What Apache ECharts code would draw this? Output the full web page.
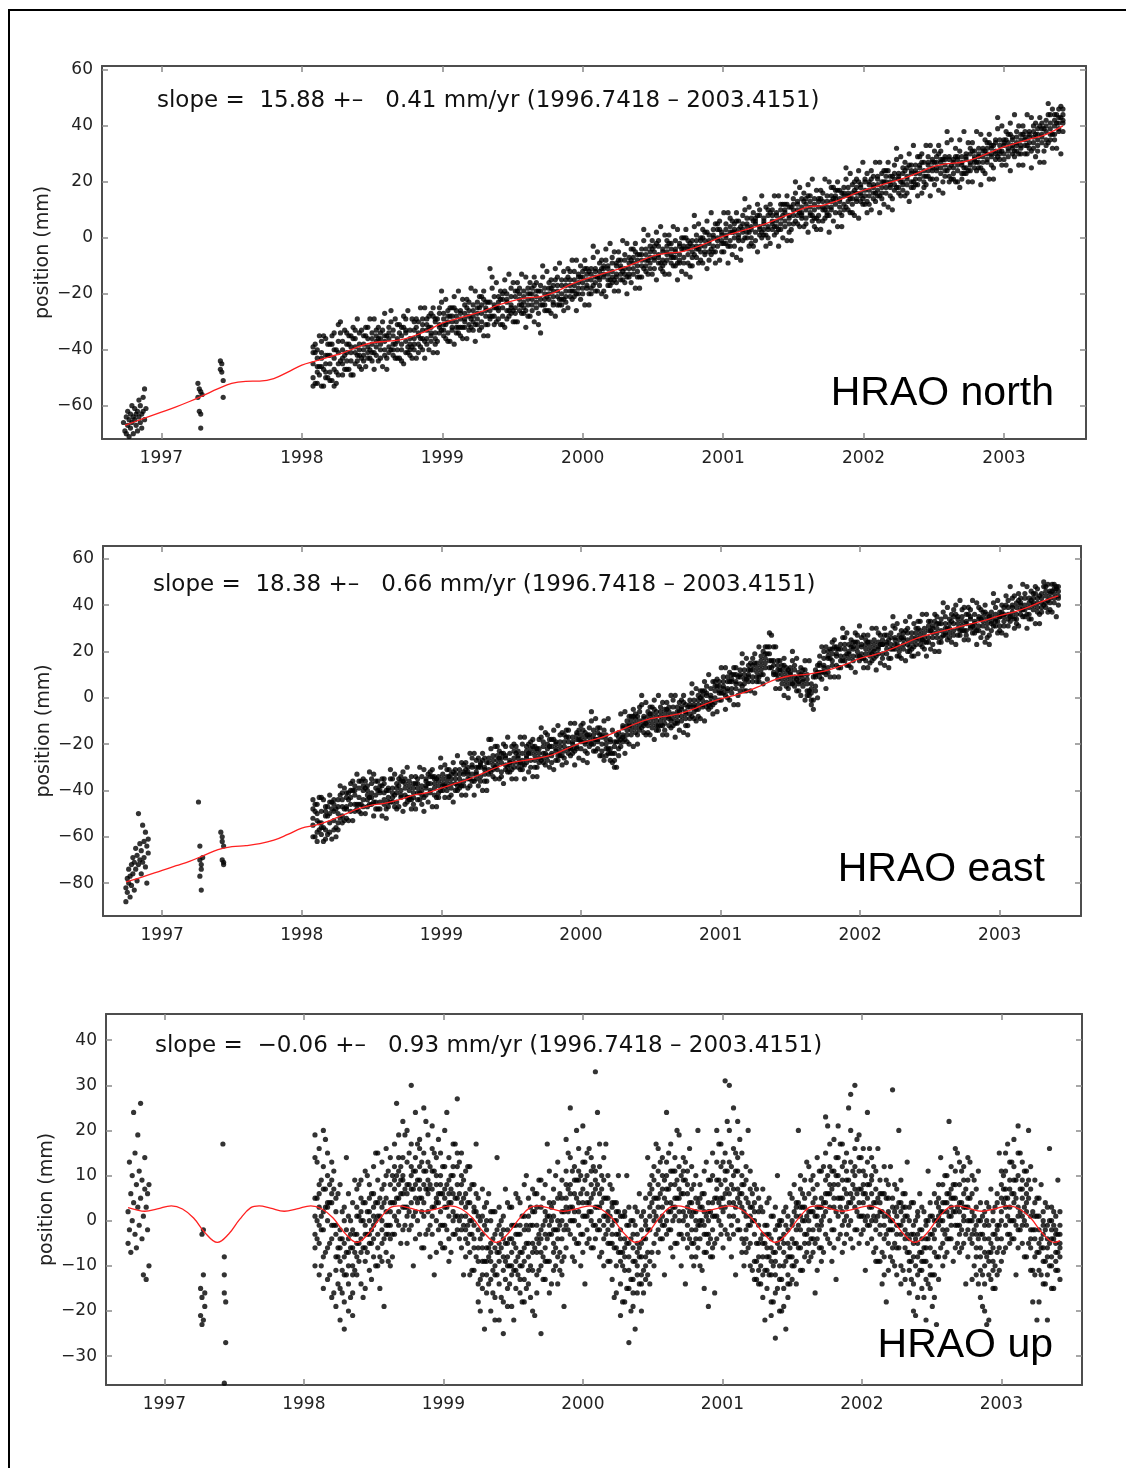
<!DOCTYPE html>
<html>
<head>
<meta charset="utf-8">
<script src="https://cdn.jsdelivr.net/npm/echarts@6/dist/echarts.min.js"></script>
<style>
  html, body { margin: 0; padding: 0; background: #fff; }
  #chart { width: 1126px; height: 1468px; }
</style>
</head>
<body>
<div id="chart"></div>
<script>
// tick labels
const yearTicks = [1997, 1998, 1999, 2000, 2001, 2002, 2003]
const northTicks = [-60, -40, -20, 0, 20, 40, 60]
const eastTicks = [-80, -60, -40, -20, 0, 20, 40, 60]
const upTicks = [-30, -20, -10, 0, 10, 20, 30, 40]

// ---- HRAO north ----
// sparse early points [year, mm]
const northEarly = [
  [1996.73,-66],[1996.74,-69],[1996.74,-72],[1996.75,-64],[1996.75,-70],[1996.76,-67],[1996.76,-62],[1996.77,-65],
  [1996.77,-71],[1996.78,-63],[1996.78,-68],[1996.79,-66],[1996.79,-60],[1996.80,-64],[1996.80,-70],[1996.81,-65],
  [1996.81,-61],[1996.82,-67],[1996.82,-63],[1996.83,-62],[1996.83,-69],[1996.84,-64],[1996.84,-58],[1996.85,-66],
  [1996.85,-60],[1996.86,-63],[1996.86,-68],[1996.87,-57],[1996.87,-62],[1996.88,-54],[1996.88,-65],[1996.89,-61],
  [1997.26,-52],[1997.26,-57],[1997.27,-54],[1997.27,-62],[1997.28,-55],[1997.28,-63],[1997.28,-68],[1997.29,-56],
  [1997.42,-44],[1997.42,-47],[1997.43,-45],[1997.43,-48],[1997.44,-51],[1997.44,-57]
]
// dense period: [year, mm x5]
const northRows = [
  [1998.08,-41,-50,-45,-53,-39],[1998.11,-46,-40,-52,-43,-48],[1998.14,-37,-46,-53,-43,-41],[1998.17,-48,-42,-45,-36,-50],
  [1998.20,-42,-51,-38,-45,-48],[1998.23,-40,-47,-43,-34,-53],[1998.26,-45,-37,-49,-41,-31],[1998.29,-37,-43,-49,-45,-40],
  [1998.32,-47,-38,-41,-44,-34],[1998.35,-39,-44,-35,-49,-41],[1998.38,-41,-36,-45,-39,-33],[1998.41,-34,-42,-38,-46,-40],
  [1998.44,-42,-38,-35,-40,-44],[1998.47,-36,-43,-32,-39,-41],[1998.50,-38,-34,-41,-44,-36],[1998.53,-33,-39,-37,-42,-35],
  [1998.56,-40,-36,-43,-34,-38],[1998.59,-37,-27,-40,-35,-42],[1998.62,-34,-41,-36,-39,-32],[1998.65,-42,-35,-38,-33,-40],
  [1998.68,-36,-40,-31,-43,-37],[1998.71,-38,-32,-40,-35,-44],[1998.74,-33,-37,-41,-34,-29],[1998.77,-40,-36,-33,-38,-42],
  [1998.80,-33,-38,-30,-36,-40],[1998.83,-35,-30,-38,-34,-41],[1998.86,-29,-36,-33,-40,-31],[1998.89,-36,-31,-38,-33,-29],
  [1998.92,-32,-37,-27,-35,-34],[1998.95,-34,-29,-38,-30,-36],[1998.98,-27,-32,-34,-31,-25],[1999.01,-33,-29,-35,-27,-31],
  [1999.04,-30,-34,-28,-37,-26],[1999.07,-28,-32,-25,-33,-30],[1999.10,-34,-28,-30,-26,-32],[1999.13,-26,-32,-29,-35,-27],
  [1999.16,-29,-24,-32,-27,-30],[1999.19,-26,-33,-28,-23,-31],[1999.22,-30,-26,-33,-24,-28],[1999.25,-27,-23,-29,-31,-25],
  [1999.28,-30,-24,-27,-21,-32],[1999.31,-23,-28,-26,-31,-25],[1999.34,-26,-11,-29,-23,-28],[1999.37,-24,-28,-21,-31,-25],
  [1999.40,-26,-21,-29,-23,-25],[1999.43,-20,-25,-28,-22,-31],[1999.46,-26,-23,-20,-29,-22],[1999.49,-21,-27,-24,-18,-25],
  [1999.52,-27,-21,-25,-19,-30],[1999.55,-22,-24,-18,-26,-20],[1999.58,-19,-27,-23,-21,-25],[1999.61,-24,-20,-28,-18,-22],
  [1999.64,-20,-24,-18,-22,-26],[1999.67,-25,-19,-21,-23,-16],[1999.70,-19,-34,-24,-17,-22],[1999.73,-22,-18,-26,-20,-24],
  [1999.76,-16,-22,-20,-26,-18],[1999.79,-23,-19,-24,-17,-21],[1999.82,-19,-24,-17,-21,-14],[1999.85,-20,-15,-22,-17,-24],
  [1999.88,-15,-19,-17,-21,-23],[1999.91,-21,-15,-19,-12,-17],[1999.94,-15,-19,-12,-17,-21],[1999.97,-18,-14,-20,-16,-13],
  [2000.00,-12,-16,-20,-14,-18],[2000.03,-18,-15,-11,-17,-13],[2000.06,-13,-18,-15,-11,-20],[2000.09,-16,-11,-14,-19,-12],
  [2000.12,-9,-15,-17,-12,-14],[2000.15,-14,-11,-19,-13,-10],[2000.18,-10,-15,-11,-17,-13],[2000.21,-16,-12,-9,-14,-7],
  [2000.24,-10,-16,-13,-9,-14],[2000.27,-13,-8,-11,-15,-10],[2000.30,-6,-11,-13,-8,-16],[2000.33,-13,-9,-11,-7,-14],
  [2000.36,-9,-13,-4,-11,-7],[2000.39,-10,-6,-14,-8,-12],[2000.42,-6,-10,-8,-4,-14],[2000.45,-10,-6,-8,-12,-4],
  [2000.48,-3,-9,-7,-5,-11],[2000.51,-8,-5,-11,-3,-7],[2000.54,-6,-3,-9,-7,-1],[2000.57,-10,-5,-4,-8,-12],
  [2000.60,-3,-8,-5,-1,-6],[2000.63,-6,-2,-9,-4,-7],[2000.66,-1,-7,-4,-10,-5],[2000.69,-8,-3,-6,-2,-9],
  [2000.72,-4,-9,0,-7,-3],[2000.75,-6,-4,-1,-9,-3],[2000.78,-1,-7,-3,-5,-10],[2000.81,-4,-1,-7,1,-3],
  [2000.84,-1,-8,-3,-5,0],[2000.87,-5,-1,-3,2,-6],[2000.90,-2,1,-5,-1,-8],[2000.93,3,-3,0,-5,1],
  [2000.96,-1,3,-3,0,5],[2000.99,2,-2,-5,1,-1],[2001.02,-2,1,5,0,3],[2001.05,4,-3,2,-1,7],
  [2001.08,0,3,-3,5,2],[2001.11,3,-1,6,1,0],[2001.14,-1,5,3,8,2],[2001.17,5,2,0,4,7],
  [2001.20,3,7,0,4,-2],[2001.23,7,2,5,-1,6],[2001.26,1,4,8,3,10],[2001.29,6,1,7,3,5],
  [2001.32,3,8,4,10,0],[2001.35,10,5,6,3,8],[2001.38,4,9,2,8,6],[2001.41,7,10,5,12,3],
  [2001.44,10,6,9,4,12],[2001.47,7,11,5,8,2],[2001.50,12,8,10,5,14],[2001.53,8,12,5,10,13],
  [2001.56,11,7,14,9,8],[2001.59,7,12,10,14,5],[2001.62,13,9,11,15,8],[2001.65,10,14,7,12,4],
  [2001.68,14,8,11,6,13],[2001.71,10,13,6,16,11],[2001.74,13,9,15,11,8],[2001.77,10,15,13,11,18],
  [2001.80,15,9,14,17,12],[2001.83,13,17,11,14,9],[2001.86,18,12,15,10,16],[2001.89,13,15,18,10,16],
  [2001.92,16,12,14,19,9],[2001.95,13,18,16,14,21],[2001.98,19,16,13,18,15],[2002.01,15,20,17,12,21],
  [2002.04,19,15,20,17,12],[2002.07,14,19,16,22,18],[2002.10,21,17,19,15,22],[2002.13,18,23,16,20,14],
  [2002.16,22,18,20,16,24],[2002.19,18,22,15,20,19],[2002.22,21,17,23,19,26],[2002.25,18,21,23,16,22],
  [2002.28,23,19,20,25,17],[2002.31,21,25,19,22,16],[2002.34,26,20,23,18,24],[2002.37,21,24,19,26,23],
  [2002.40,25,21,26,23,29],[2002.43,20,24,27,22,18],[2002.46,27,24,22,26,29],[2002.49,24,28,25,21,27],
  [2002.52,29,24,27,21,25],[2002.55,23,27,25,28,31],[2002.58,26,22,28,24,29],[2002.61,25,28,22,29,20],
  [2002.64,23,27,21,28,25],[2002.67,24,28,20,26,29],[2002.70,26,29,23,27,21],[2002.73,29,25,30,23,28],
  [2002.76,26,30,27,32,24],[2002.79,31,27,28,25,29],[2002.82,27,30,25,32,29],[2002.85,31,27,32,29,24],
  [2002.88,27,30,34,28,32],[2002.91,33,29,30,32,26],[2002.94,30,34,28,31,35],[2002.97,35,30,33,28,31],
  [2003.00,30,33,35,28,34],[2003.03,34,31,37,32,29],[2003.06,32,35,30,36,33],[2003.09,36,31,34,33,38],
  [2003.12,32,35,37,30,33],[2003.15,35,38,33,36,30],[2003.18,38,34,36,32,37],[2003.21,34,38,32,36,40],
  [2003.24,37,33,39,35,31],[2003.27,36,39,37,41,34],[2003.30,40,35,38,33,42],[2003.33,35,39,37,41,44],
  [2003.36,40,37,42,35,44],[2003.39,38,41,39,43,46],[2003.42,42,38,44,41,46]
]
// in-between days, wider scatter: [year, mm x3]
const northRows2 = [
  [1998.095,-38,-52,-41],[1998.125,-49,-35,-46],[1998.155,-35,-47,-53],[1998.185,-50,-38,-42],[1998.215,-38,-51,-35],
  [1998.245,-52,-40,-48],[1998.275,-34,-44,-30],[1998.305,-47,-33,-42],[1998.335,-35,-47,-38],[1998.365,-49,-36,-32],
  [1998.395,-29,-44,-42],[1998.425,-43,-33,-47],[1998.455,-32,-46,-35],[1998.485,-43,-29,-40],[1998.515,-29,-41,-47],
  [1998.545,-44,-32,-36],[1998.575,-33,-46,-30],[1998.605,-47,-35,-43],[1998.635,-30,-40,-26],[1998.665,-43,-29,-38],
  [1998.695,-31,-43,-34],[1998.725,-45,-32,-28],[1998.755,-26,-41,-39],[1998.785,-39,-29,-43],[1998.815,-29,-43,-32],
  [1998.845,-39,-25,-36],[1998.875,-25,-37,-43],[1998.905,-40,-28,-32],[1998.935,-28,-41,-25],[1998.965,-41,-29,-37],
  [1998.995,-23,-33,-19],[1999.025,-36,-22,-31],[1999.055,-25,-37,-28],[1999.085,-38,-25,-21],[1999.115,-19,-34,-32],
  [1999.145,-32,-22,-36],[1999.175,-22,-36,-25],[1999.205,-32,-18,-29],[1999.235,-19,-31,-37],[1999.265,-33,-21,-25],
  [1999.295,-22,-35,-19],[1999.325,-35,-23,-31],[1999.355,-18,-28,-14],[1999.385,-30,-16,-25],[1999.415,-19,-31,-22],
  [1999.445,-32,-19,-15],[1999.475,-13,-28,-26],[1999.505,-26,-16,-30],[1999.535,-16,-30,-19],[1999.565,-27,-13,-24],
  [1999.595,-14,-26,-32],[1999.625,-28,-16,-20],[1999.655,-17,-30,-14],[1999.685,-31,-19,-27],[1999.715,-14,-24,-10],
  [1999.745,-26,-12,-21],[1999.775,-15,-27,-18],[1999.805,-28,-15,-11],[1999.835,-9,-24,-22],[1999.865,-22,-12,-26],
  [1999.895,-11,-25,-14],[1999.925,-22,-8,-19],[1999.955,-8,-20,-26],[1999.985,-22,-10,-14],[2000.015,-11,-24,-8],
  [2000.045,-24,-12,-20],[2000.075,-7,-17,-3],[2000.105,-19,-5,-14],[2000.135,-8,-20,-11],[2000.165,-21,-8,-4],
  [2000.195,-2,-17,-15],[2000.225,-15,-5,-19],[2000.255,-5,-19,-8],[2000.285,-15,-1,-12],[2000.315,-2,-14,-20],
  [2000.345,-16,-4,-8],[2000.375,-5,-18,-2],[2000.405,-18,-6,-14],[2000.435,-1,-11,3],[2000.465,-13,1,-8],
  [2000.495,-1,-13,-4],[2000.525,-15,-2,2],[2000.555,4,-11,-9],[2000.585,-9,1,-13],[2000.615,1,-13,-2],
  [2000.645,-10,4,-7],[2000.675,3,-9,-15],[2000.705,-12,0,-4],[2000.735,0,-13,3],[2000.765,-14,-2,-10],
  [2000.795,4,-6,8],[2000.825,-9,5,-4],[2000.855,3,-9,0],[2000.885,-11,2,6],[2000.915,9,-6,-4],
  [2000.945,-5,5,-9],[2000.975,6,-8,3],[2001.005,-5,9,-2],[2001.035,9,-3,-9],[2001.065,-6,6,2],
  [2001.095,6,-7,9],[2001.125,-8,4,-4],[2001.155,10,0,14],[2001.185,-3,11,2],[2001.215,9,-3,6],
  [2001.245,-5,8,12],[2001.275,15,0,2],[2001.305,1,11,-3],[2001.335,12,-2,9],[2001.365,1,15,4],
  [2001.395,15,3,-3],[2001.425,0,12,8],[2001.455,12,-1,15],[2001.485,-1,11,3],[2001.515,16,6,20],
  [2001.545,4,18,9],[2001.575,16,4,13],[2001.605,2,15,19],[2001.635,21,6,8],[2001.665,7,17,3],
  [2001.695,17,3,14],[2001.725,7,21,10],[2001.755,20,8,2],[2001.785,6,18,14],[2001.815,17,4,20],
  [2001.845,4,16,8],[2001.875,21,11,25],[2001.905,9,23,14],[2001.935,20,8,17],[2001.965,7,20,24],
  [2001.995,27,12,14],[2002.025,13,23,9],[2002.055,24,10,21],[2002.085,13,27,16],[2002.115,27,15,9],
  [2002.145,12,24,20],[2002.175,24,11,27],[2002.205,10,22,14],[2002.235,28,18,32],[2002.265,15,29,20],
  [2002.295,27,15,24],[2002.325,13,26,30],[2002.355,33,18,20],[2002.385,19,29,15],[2002.415,30,16,27],
  [2002.445,19,33,22],[2002.475,33,21,15],[2002.505,19,31,27],[2002.535,30,17,33],[2002.565,16,28,20],
  [2002.595,34,24,38],[2002.625,21,35,26],[2002.655,32,20,29],[2002.685,18,31,35],[2002.715,38,23,25],
  [2002.745,24,34,20],[2002.775,34,20,31],[2002.805,24,38,27],[2002.835,37,25,19],[2002.865,23,35,31],
  [2002.895,34,21,37],[2002.925,21,33,25],[2002.955,39,29,43],[2002.985,26,40,31],[2003.015,38,26,35],
  [2003.045,24,37,41],[2003.075,44,29,31],[2003.105,30,40,26],[2003.135,40,26,37],[2003.165,30,44,33],
  [2003.195,43,31,25],[2003.225,29,41,37],[2003.255,40,27,43],[2003.285,27,39,31],[2003.315,44,34,48],
  [2003.345,32,46,37],[2003.375,44,32,41],[2003.405,30,43,47]
]
// red fitted curve
const northFit = [
  [1996.74,-67],[1996.85,-65],[1997.0,-62.3],[1997.1,-60.5],[1997.2,-58.5],[1997.3,-56.3],[1997.4,-54],[1997.5,-52],
  [1997.6,-51.3],[1997.7,-51.2],[1997.8,-50.3],[1997.9,-48],[1998.0,-45.5],[1998.1,-44],[1998.2,-42.5],[1998.3,-41],
  [1998.4,-39],[1998.5,-37.5],[1998.6,-37],[1998.7,-36.5],[1998.8,-35],[1998.9,-33],[1999.0,-30.5],[1999.1,-29],
  [1999.2,-27.5],[1999.3,-26],[1999.4,-24],[1999.5,-22.5],[1999.6,-21.5],[1999.7,-21],[1999.8,-19.5],[1999.9,-17],
  [2000.0,-15],[2000.1,-13.5],[2000.2,-12],[2000.3,-10.5],[2000.4,-8.5],[2000.5,-6.5],[2000.6,-5.5],[2000.7,-5],
  [2000.8,-3.5],[2000.9,-1.5],[2001.0,0.5],[2001.1,2],[2001.2,3.5],[2001.3,5],[2001.4,7],[2001.5,9],
  [2001.6,11],[2001.7,11.5],[2001.8,13],[2001.9,15],[2002.0,17],[2002.1,18.5],[2002.2,20],[2002.3,21.5],
  [2002.4,23.5],[2002.5,25.5],[2002.6,26.5],[2002.7,27],[2002.8,28.5],[2002.9,30.5],[2003.0,32.5],[2003.1,34],
  [2003.2,35.5],[2003.3,37],[2003.42,40]
]

// ---- HRAO east ----
const eastEarly = [
  [1996.74,-82],[1996.74,-88],[1996.74,-95],[1996.75,-78],[1996.75,-84],[1996.76,-80],[1996.76,-74],[1996.77,-86],
  [1996.77,-77],[1996.78,-72],[1996.78,-81],[1996.79,-69],[1996.79,-76],[1996.80,-83],[1996.80,-71],[1996.81,-65],
  [1996.81,-74],[1996.82,-79],[1996.82,-68],[1996.83,-50],[1996.83,-72],[1996.84,-63],[1996.84,-70],[1996.85,-76],
  [1996.85,-66],[1996.86,-55],[1996.86,-71],[1996.87,-62],[1996.87,-69],[1996.88,-58],[1996.88,-73],[1996.89,-64],
  [1996.89,-80],[1996.90,-67],[1996.90,-61],
  [1997.26,-45],[1997.27,-64],[1997.27,-70],[1997.28,-72],[1997.28,-74],[1997.27,-77],[1997.28,-83],[1997.29,-69],
  [1997.42,-58],[1997.43,-60],[1997.43,-62],[1997.44,-64],[1997.43,-70],[1997.44,-72],[1997.44,-71]
]
const eastRows = [
  [1998.08,-48,-55,-44,-60,-52],[1998.11,-53,-46,-58,-50,-62],[1998.14,-49,-56,-43,-54,-59],[1998.17,-57,-51,-47,-61,-49],
  [1998.20,-50,-54,-45,-58,-42],[1998.23,-53,-46,-57,-49,-44],[1998.26,-47,-54,-44,-50,-57],[1998.29,-51,-44,-47,-54,-41],
  [1998.32,-43,-48,-52,-41,-47],[1998.35,-46,-40,-49,-43,-37],[1998.38,-38,-46,-42,-49,-40],[1998.41,-43,-39,-46,-36,-49],
  [1998.44,-40,-47,-38,-44,-35],[1998.47,-44,-40,-47,-38,-42],[1998.50,-37,-43,-41,-35,-46],[1998.53,-45,-39,-42,-36,-48],
  [1998.56,-41,-45,-38,-48,-40],[1998.59,-44,-37,-46,-41,-35],[1998.62,-39,-43,-47,-40,-45],[1998.65,-45,-39,-35,-43,-41],
  [1998.68,-39,-45,-37,-41,-48],[1998.71,-42,-36,-43,-34,-40],[1998.74,-37,-42,-39,-46,-35],[1998.77,-43,-40,-36,-44,-38],
  [1998.80,-39,-43,-46,-37,-41],[1998.83,-41,-35,-39,-44,-37],[1998.86,-34,-40,-42,-38,-46],[1998.89,-42,-36,-39,-35,-38],
  [1998.92,-37,-41,-34,-40,-32],[1998.95,-39,-34,-42,-37,-35],[1998.98,-34,-38,-36,-41,-43],[1999.01,-40,-35,-38,-33,-37],
  [1999.04,-34,-40,-36,-38,-31],[1999.07,-37,-33,-39,-35,-42],[1999.10,-31,-37,-33,-40,-35],[1999.13,-37,-33,-35,-31,-39],
  [1999.16,-33,-36,-29,-38,-32],[1999.19,-35,-30,-33,-39,-32],[1999.22,-29,-33,-36,-30,-26],[1999.25,-35,-30,-33,-27,-32],
  [1999.28,-29,-34,-30,-36,-28],[1999.31,-31,-26,-33,-30,-36],[1999.34,-26,-31,-18,-33,-28],[1999.37,-31,-27,-34,-25,-29],
  [1999.40,-27,-31,-25,-29,-21],[1999.43,-32,-28,-26,-34,-24],[1999.46,-25,-29,-31,-26,-21],[1999.49,-28,-24,-27,-32,-29],
  [1999.52,-23,-30,-26,-28,-20],[1999.55,-28,-25,-30,-23,-26],[1999.58,-24,-29,-20,-27,-31],[1999.61,-28,-23,-25,-21,-26],
  [1999.64,-22,-27,-30,-24,-19],[1999.67,-25,-23,-27,-21,-30],[1999.70,-22,-28,-24,-18,-26],[1999.73,-26,-21,-24,-19,-28],
  [1999.76,-22,-25,-20,-27,-16],[1999.79,-24,-18,-25,-21,-28],[1999.82,-19,-23,-22,-27,-20],[1999.85,-25,-19,-23,-16,-21],
  [1999.88,-19,-23,-16,-21,-26],[1999.91,-22,-17,-24,-19,-14],[1999.94,-17,-20,-22,-19,-24],[1999.97,-22,-15,-18,-21,-16],
  [2000.00,-18,-22,-16,-19,-12],[2000.03,-15,-20,-23,-17,-19],[2000.06,-19,-16,-13,-21,-17],[2000.09,-16,-20,-18,-14,-23],
  [2000.12,-19,-15,-22,-18,-13],[2000.15,-16,-20,-23,-17,-25],[2000.18,-22,-18,-20,-16,-25],[2000.21,-19,-24,-18,-22,-27],
  [2000.24,-24,-19,-27,-21,-30],[2000.27,-15,-22,-19,-25,-17],[2000.30,-16,-12,-19,-13,-17],[2000.33,-12,-16,-10,-14,-19],
  [2000.36,-14,-10,-16,-8,-12],[2000.39,-9,-13,-11,-7,-15],[2000.42,-12,-6,-10,-14,-4],[2000.45,-8,-12,-15,-9,-11],
  [2000.48,-12,-8,-6,-10,-15],[2000.51,-9,-13,-7,-4,-11],[2000.54,-6,-10,-12,-8,-14],[2000.57,-10,-6,-8,-12,-4],
  [2000.60,-7,-11,-5,-9,-14],[2000.63,-9,-4,-12,-6,-8],[2000.66,-4,-9,-7,-12,-1],[2000.69,-10,-6,-8,-4,-11],
  [2000.72,-4,-10,-5,-8,-1],[2000.75,-7,-3,-9,-6,-12],[2000.78,-1,-7,-4,-9,-3],[2000.81,-6,-3,-9,-1,-4],
  [2000.84,-1,-5,1,-3,-8],[2000.87,-4,1,-1,3,-3],[2000.90,2,-2,-4,1,5],[2000.93,0,4,-2,1,-4],
  [2000.96,5,0,3,-2,7],[2000.99,2,5,3,7,-1],[2001.02,7,2,5,9,4],[2001.05,3,7,9,4,0],
  [2001.08,7,4,10,2,8],[2001.11,6,10,4,7,13],[2001.14,10,6,9,3,12],[2001.17,6,10,8,12,3],
  [2001.20,12,7,10,14,9],[2001.23,9,12,14,7,17],[2001.26,13,9,11,15,7],[2001.29,12,16,18,10,14],
  [2001.32,19,13,22,15,17],[2001.35,16,22,28,13,19],[2001.38,16,11,22,14,10],[2001.41,10,14,8,12,16],
  [2001.44,12,8,10,6,14],[2001.47,7,11,13,9,5],[2001.50,10,6,11,13,8],[2001.53,7,12,5,9,14],
  [2001.56,11,7,9,3,6],[2001.59,7,10,5,12,8],[2001.62,8,3,1,6,10],[2001.65,4,-1,2,6,-3],
  [2001.68,5,9,12,3,10],[2001.71,15,11,9,14,18],[2001.74,13,17,11,14,20],[2001.77,18,13,17,11,20],
  [2001.80,16,19,14,21,24],[2001.83,22,18,19,14,21],[2001.86,16,21,18,23,13],[2001.89,21,18,23,16,26],
  [2001.92,19,23,17,20,14],[2001.95,22,18,24,16,21],[2001.98,18,22,20,24,27],[2002.01,22,17,23,19,26],
  [2002.04,19,23,16,21,25],[2002.07,24,20,22,18,15],[2002.10,20,23,17,25,21],[2002.13,24,19,22,21,28],
  [2002.16,19,23,25,17,23],[2002.19,24,21,19,27,23],[2002.22,21,26,23,17,28],[2002.25,26,23,21,25,30],
  [2002.28,20,25,27,22,18],[2002.31,25,21,26,28,23],[2002.34,23,28,20,25,30],[2002.37,28,24,26,21,18],
  [2002.40,25,28,23,30,26],[2002.43,29,23,27,25,33],[2002.46,24,28,30,26,21],[2002.49,29,26,24,31,33],
  [2002.52,26,31,28,23,30],[2002.55,32,28,26,30,35],[2002.58,29,32,26,34,24],[2002.61,32,27,30,28,35],
  [2002.64,28,32,34,30,26],[2002.67,32,29,27,35,38],[2002.70,30,34,32,27,35],[2002.73,35,31,29,33,38],
  [2002.76,32,36,29,33,27],[2002.79,35,31,34,30,38],[2002.82,30,33,36,32,28],[2002.85,34,29,35,31,39],
  [2002.88,31,35,28,33,37],[2002.91,36,32,34,30,26],[2002.94,32,35,29,37,33],[2002.97,36,31,34,33,39],
  [2003.00,31,35,37,29,35],[2003.03,36,33,31,39,35],[2003.06,34,39,36,31,42],[2003.09,40,37,35,39,43],
  [2003.12,34,39,41,36,32],[2003.15,40,36,41,43,38],[2003.18,38,43,35,40,45],[2003.21,43,39,41,36,34],
  [2003.24,40,43,38,45,41],[2003.27,43,37,41,39,47],[2003.30,39,43,45,41,37],[2003.33,44,41,39,46,48],
  [2003.36,41,46,43,38,45],[2003.39,47,43,41,45,49],[2003.42,43,46,40,44,48]
]
const eastRows2 = [
  [1998.095,-46,-60,-49],[1998.125,-57,-43,-54],[1998.155,-44,-56,-62],[1998.185,-59,-47,-51],[1998.215,-48,-61,-45],
  [1998.245,-60,-48,-56],[1998.275,-42,-52,-38],[1998.305,-53,-39,-48],[1998.335,-41,-53,-44],[1998.365,-53,-40,-36],
  [1998.395,-33,-48,-46],[1998.425,-46,-36,-50],[1998.455,-36,-50,-39],[1998.485,-46,-32,-43],[1998.515,-33,-45,-51],
  [1998.545,-48,-36,-40],[1998.575,-38,-51,-35],[1998.605,-52,-40,-48],[1998.635,-35,-45,-31],[1998.665,-47,-33,-42],
  [1998.695,-35,-47,-38],[1998.725,-49,-36,-32],[1998.755,-30,-45,-43],[1998.785,-44,-34,-48],[1998.815,-34,-48,-37],
  [1998.845,-44,-30,-41],[1998.875,-31,-43,-49],[1998.905,-45,-33,-37],[1998.935,-34,-47,-31],[1998.965,-47,-35,-43],
  [1998.995,-30,-40,-26],[1999.025,-43,-29,-38],[1999.055,-31,-43,-34],[1999.085,-45,-32,-28],[1999.115,-25,-40,-38],
  [1999.145,-38,-28,-42],[1999.175,-28,-42,-31],[1999.205,-38,-24,-35],[1999.235,-24,-36,-42],[1999.265,-38,-26,-30],
  [1999.295,-27,-40,-24],[1999.325,-40,-28,-36],[1999.355,-22,-32,-18],[1999.385,-35,-21,-30],[1999.415,-23,-35,-26],
  [1999.445,-37,-24,-20],[1999.475,-17,-32,-30],[1999.505,-31,-21,-35],[1999.535,-21,-35,-24],[1999.565,-31,-17,-28],
  [1999.595,-17,-29,-35],[1999.625,-32,-20,-24],[1999.655,-21,-34,-18],[1999.685,-34,-22,-30],[1999.715,-17,-27,-13],
  [1999.745,-29,-15,-24],[1999.775,-18,-30,-21],[1999.805,-31,-18,-14],[1999.835,-12,-27,-25],[1999.865,-25,-15,-29],
  [1999.895,-14,-28,-17],[1999.925,-25,-11,-22],[1999.955,-11,-23,-29],[1999.985,-26,-14,-18],[2000.015,-14,-27,-11],
  [2000.045,-28,-16,-24],[2000.075,-10,-20,-6],[2000.105,-23,-9,-18],[2000.135,-13,-25,-16],[2000.165,-27,-14,-10],
  [2000.195,-9,-24,-22],[2000.225,-24,-14,-28],[2000.255,-16,-30,-19],[2000.285,-21,-7,-18],[2000.315,-6,-18,-24],
  [2000.345,-20,-8,-12],[2000.375,-8,-21,-5],[2000.405,-20,-8,-16],[2000.435,-3,-13,1],[2000.465,-16,-2,-11],
  [2000.495,-4,-16,-7],[2000.525,-18,-5,-1],[2000.555,1,-14,-12],[2000.585,-12,-2,-16],[2000.615,-2,-16,-5],
  [2000.645,-13,1,-10],[2000.675,1,-11,-17],[2000.705,-14,-2,-6],[2000.735,-2,-15,1],[2000.765,-16,-4,-12],
  [2000.795,2,-8,6],[2000.825,-10,4,-5],[2000.855,3,-9,0],[2000.885,-10,3,7],[2000.915,10,-5,-3],
  [2000.945,-3,7,-7],[2000.975,8,-6,5],[2001.005,-1,13,2],[2001.035,13,1,-5],[2001.065,-1,11,7],
  [2001.095,10,-3,13],[2001.125,-3,9,1],[2001.155,15,5,19],[2001.185,3,17,8],[2001.215,15,3,12],
  [2001.245,2,15,19],[2001.275,22,7,9],[2001.305,10,20,6],[2001.335,22,8,19],[2001.365,13,27,16],
  [2001.395,22,10,4],[2001.425,4,16,12],[2001.455,14,1,17],[2001.485,0,12,4],[2001.515,16,6,20],
  [2001.545,3,17,8],[2001.575,13,1,10],[2001.605,-1,12,16],[2001.635,16,1,3],[2001.665,-1,9,-5],
  [2001.695,14,0,11],[2001.725,8,22,11],[2001.755,22,10,4],[2001.785,9,21,17],[2001.815,22,9,25],
  [2001.845,9,21,13],[2001.875,26,16,30],[2001.905,14,28,19],[2001.935,25,13,22],[2001.965,11,24,28],
  [2001.995,31,16,18],[2002.025,17,27,13],[2002.055,27,13,24],[2002.085,16,30,19],[2002.115,30,18,12],
  [2002.145,15,27,23],[2002.175,27,14,30],[2002.205,13,25,17],[2002.235,31,21,35],[2002.265,18,32,23],
  [2002.295,29,17,26],[2002.325,16,29,33],[2002.355,35,20,22],[2002.385,22,32,18],[2002.415,33,19,30],
  [2002.445,22,36,25],[2002.475,36,24,18],[2002.505,21,33,29],[2002.535,33,20,36],[2002.565,20,32,24],
  [2002.595,37,27,41],[2002.625,25,39,30],[2002.655,36,24,33],[2002.685,23,36,40],[2002.715,42,27,29],
  [2002.745,29,39,25],[2002.775,39,25,36],[2002.805,28,42,31],[2002.835,41,29,23],[2002.865,26,38,34],
  [2002.895,37,24,40],[2002.925,23,35,27],[2002.955,41,31,45],[2002.985,28,42,33],[2003.015,40,28,37],
  [2003.045,27,40,44],[2003.075,48,33,35],[2003.105,34,44,30],[2003.135,45,31,42],[2003.165,35,49,38],
  [2003.195,48,36,30],[2003.225,34,46,42],[2003.255,45,32,48],[2003.285,32,44,36],[2003.315,50,40,48],
  [2003.345,37,49,42],[2003.375,49,37,46],[2003.405,35,48,47]
]
const eastFit = [
  [1996.74,-79.5],[1996.85,-77.5],[1997.0,-74.5],[1997.1,-72.5],[1997.2,-70.5],[1997.3,-68],[1997.4,-65.5],[1997.5,-64.3],
  [1997.6,-63.8],[1997.7,-63],[1997.8,-61.5],[1997.9,-59],[1998.0,-56.3],[1998.1,-55],[1998.2,-53],[1998.3,-50.5],
  [1998.4,-48],[1998.5,-46.3],[1998.6,-45.5],[1998.7,-44],[1998.8,-42],[1998.9,-41],[1999.0,-39],[1999.1,-37],
  [1999.2,-35],[1999.3,-32.5],[1999.4,-30],[1999.5,-28],[1999.6,-27],[1999.7,-26],[1999.8,-24.5],[1999.9,-22],
  [2000.0,-19.5],[2000.1,-18],[2000.2,-16],[2000.3,-13.5],[2000.4,-11],[2000.5,-9],[2000.6,-8],[2000.7,-7],
  [2000.8,-5],[2000.9,-2.5],[2001.0,-0.5],[2001.1,1],[2001.2,3],[2001.3,5.5],[2001.4,8],[2001.5,9.5],
  [2001.6,10],[2001.7,11],[2001.8,12.5],[2001.9,14.5],[2002.0,17],[2002.1,18.5],[2002.2,20.5],[2002.3,23],
  [2002.4,25.5],[2002.5,27.5],[2002.6,29],[2002.7,30.5],[2002.8,32],[2002.9,33.5],[2003.0,35.5],[2003.1,37],
  [2003.2,39],[2003.3,41.5],[2003.42,44]
]

// ---- HRAO up ----
const upEarly = [
  [1996.74,2],[1996.74,-5],[1996.75,13],[1996.75,-2],[1996.76,6],[1996.76,-7],[1996.77,10],[1996.77,0],
  [1996.78,24],[1996.78,4],[1996.79,-3],[1996.79,15],[1996.80,8],[1996.80,-6],[1996.81,3],[1996.81,19],
  [1996.82,-1],[1996.82,11],[1996.83,26],[1996.83,5],[1996.84,-4],[1996.84,9],[1996.85,1],[1996.85,-12],
  [1996.86,7],[1996.86,14],[1996.87,-13],[1996.87,3],[1996.88,6],[1996.88,-2],[1996.89,8],[1996.89,-10],
  [1997.26,-21],[1997.26,-15],[1997.27,-23],[1997.27,-3],[1997.27,-17],[1997.28,-22],[1997.28,-12],[1997.28,-2],
  [1997.29,-19],[1997.29,-16],
  [1997.42,17],[1997.43,-8],[1997.43,-12],[1997.43,-16],[1997.44,-18],[1997.44,-27],[1997.43,-36]
]
// dense period: [year, mm x7]
const upRows = [
  [1998.08,5,-3,14,-10,1,19,-6],[1998.11,-1,8,-12,3,16,-5,6],[1998.14,7,-8,2,12,-2,20,-15],[1998.17,0,10,-6,4,-13,15,3],
  [1998.20,4,-4,9,-17,-1,6,13],[1998.23,-3,-11,2,-8,-19,5,-1],[1998.26,-9,-2,-15,-6,8,-22,-4],[1998.29,-12,-5,-18,0,-24,-8,3],
  [1998.32,-7,-14,1,-20,-4,-10,6],[1998.35,-2,-10,-16,4,-6,-12,-21],[1998.38,-5,1,-12,7,-3,-8,3],[1998.41,0,-7,5,-14,2,-4,9],
  [1998.44,-3,4,-9,11,-1,-6,-15],[1998.47,2,-5,8,-11,0,5,-3],[1998.50,-1,6,-8,3,12,-4,1],[1998.53,4,-3,9,-10,1,-6,15],
  [1998.56,0,7,-5,13,-2,3,-9],[1998.59,5,-1,10,-7,2,16,-3],[1998.62,2,8,-4,14,-1,4,-10],[1998.65,7,1,12,4,-3,17,9],
  [1998.68,5,11,-1,8,19,2,14],[1998.71,9,3,14,6,-2,22,10],[1998.74,6,13,1,20,8,3,-5],[1998.77,10,4,17,30,7,-1,12],
  [1998.80,8,14,2,11,24,5,-4],[1998.83,12,5,18,9,-3,7,16],[1998.86,4,15,8,25,1,11,-6],[1998.89,9,2,13,6,19,-2,7],
  [1998.92,3,11,-3,16,7,1,21],[1998.95,8,0,14,4,-7,10,5],[1998.98,2,10,-5,6,15,-1,8],[1999.01,7,-1,12,3,20,-6,5],
  [1999.04,4,9,-4,14,1,-9,6],[1999.07,10,2,17,6,-3,12,0],[1999.10,5,12,27,-2,8,1,15],[1999.13,1,8,-6,15,4,-2,10],
  [1999.16,6,-2,11,3,-8,1,-4],[1999.19,0,7,-7,12,-3,4,-12],[1999.22,-4,3,-11,8,-1,2,-6],[1999.25,-2,-9,5,-14,1,-6,-18],
  [1999.28,-6,1,-12,-3,7,-9,-15],[1999.31,-9,-2,-16,4,-6,-12,0],[1999.34,-5,-13,0,-20,-9,2,-7],[1999.37,-10,-3,-17,2,-12,-6,-22],
  [1999.40,-7,-14,-1,-22,-5,-9,3],[1999.43,-11,-4,-18,1,-25,-8,-2],[1999.46,-8,-15,-2,-10,4,-5,-19],[1999.49,-4,-12,3,-19,-7,-1,-10],
  [1999.52,-9,-1,-15,-6,6,-11,-3],[1999.55,-3,-10,4,-16,-7,-1,-13],[1999.58,-6,1,-13,-2,8,-9,-18],[1999.61,-2,-8,5,-14,-5,-11,1],
  [1999.64,-5,2,-11,7,-20,-1,-7],[1999.67,-1,-7,6,-12,3,-4,-16],[1999.70,-4,3,-10,-25,9,-2,-7],[1999.73,0,-6,8,-13,-3,2,-9],
  [1999.76,-3,4,-9,11,-16,-1,1],[1999.79,1,-5,7,-11,-2,-7,4],[1999.82,-2,5,-8,13,-14,0,-4],[1999.85,2,-4,9,-9,0,-12,5],
  [1999.88,5,-1,11,-6,18,3,8],[1999.91,3,8,-3,14,25,0,6],[1999.94,6,0,12,-4,9,2,-9],[1999.97,2,9,-5,16,4,-1,11],
  [2000.00,7,1,13,-3,21,4,-7],[2000.03,4,10,-2,15,6,1,-5],[2000.06,8,2,14,-6,11,5,0],[2000.09,3,11,33,-1,7,-4,9],
  [2000.12,6,0,12,-8,17,3,-2],[2000.15,1,9,-4,14,-10,5,-1],[2000.18,-2,5,-9,10,2,-5,0],[2000.21,-5,3,-13,7,-1,-3,4],
  [2000.24,-3,-10,4,-16,0,-6,2],[2000.27,-7,1,-14,-4,-21,-9,-2],[2000.30,-4,-11,2,-18,-8,-6,1],[2000.33,-8,-1,-15,3,-27,-5,-11],
  [2000.36,-6,-13,0,-19,-9,-3,-16],[2000.39,-10,-3,-16,2,-7,-12,-5],[2000.42,-5,-12,1,-20,-2,-8,-14],[2000.45,-8,0,-13,5,-4,-10,-1],
  [2000.48,-2,-9,6,-14,3,1,8],[2000.51,2,-5,9,-10,5,0,12],[2000.54,5,-2,11,-7,16,3,8],[2000.57,3,10,-4,14,7,1,-1],
  [2000.60,7,0,13,-3,24,4,10],[2000.63,4,11,-2,17,8,2,-6],[2000.66,8,1,14,-5,5,11,3],[2000.69,5,12,0,19,-3,7,2],
  [2000.72,2,9,-4,14,6,0,11],[2000.75,6,-1,11,-6,3,8,-3],[2000.78,1,7,-5,12,-2,4,-8],[2000.81,-2,5,-8,10,2,-4,0],
  [2000.84,3,-4,8,-10,0,-1,5],[2000.87,-1,6,-7,11,-15,2,-3],[2000.90,2,-5,9,-3,-19,0,4],[2000.93,4,-2,10,-8,15,1,-6],
  [2000.96,7,1,13,-4,20,5,9],[2000.99,5,12,-1,17,8,3,-3],[2001.02,9,3,15,31,-2,6,11],[2001.05,6,13,1,20,30,4,-4],
  [2001.08,10,4,16,-3,25,7,1],[2001.11,7,14,0,11,22,5,-2],[2001.14,3,10,-4,15,6,8,-7],[2001.17,5,-2,9,-7,12,1,-4],
  [2001.20,1,7,-5,11,-1,3,-10],[2001.23,-3,4,-9,8,-13,0,2],[2001.26,-1,-8,5,-14,2,-5,-11],[2001.29,-5,2,-12,-3,7,-8,-17],
  [2001.32,-8,-1,-15,4,-6,-11,-3],[2001.35,-4,-12,1,-18,-9,-6,-21],[2001.38,-9,-2,-16,-26,3,-7,-12],[2001.41,-6,-13,0,-20,-4,-10,-1],
  [2001.44,-10,-3,-15,2,-7,-5,-19],[2001.47,-5,-12,1,-17,-2,-8,-14],[2001.50,-8,0,-13,5,-4,-10,-1],[2001.53,-2,-9,4,-14,1,-5,3],
  [2001.56,1,-6,7,-11,3,-2,10],[2001.59,3,-3,9,-8,0,5,-5],[2001.62,0,6,-5,12,-9,2,-2],[2001.65,4,-2,10,-7,2,-4,7],
  [2001.68,1,8,-4,14,-11,3,-1],[2001.71,5,-1,11,-6,3,0,-9],[2001.74,2,9,-3,15,23,6,4],[2001.77,6,0,12,-5,8,3,17],
  [2001.80,3,11,-2,18,5,8,-6],[2001.83,8,1,14,-4,21,5,10],[2001.86,5,12,-1,17,9,2,-7],[2001.89,9,3,15,-3,6,11,1],
  [2001.92,6,13,0,20,28,4,-4],[2001.95,10,3,16,-2,30,7,12],[2001.98,7,14,1,19,11,-5,4],[2002.01,4,11,-2,16,8,1,6],
  [2002.04,8,1,13,-5,24,5,-1],[2002.07,3,10,-4,14,6,0,9],[2002.10,0,7,-6,11,-2,4,-9],[2002.13,4,-3,9,-9,2,-1,6],
  [2002.16,-1,6,-8,12,-4,1,-12],[2002.19,2,-5,8,-11,1,-2,5],[2002.22,-2,5,-9,29,3,0,-6],[2002.25,1,-6,7,-12,-3,3,-1],
  [2002.28,-3,4,-10,9,-1,2,-14],[2002.31,-6,1,-13,6,-2,-4,3],[2002.34,-4,-11,3,-16,-7,0,-9],[2002.37,-8,-1,-14,4,-20,-5,-3],
  [2002.40,-5,-12,1,-17,-3,-8,2],[2002.43,-9,-2,-15,3,-7,-4,-11],[2002.46,-6,-13,0,-22,-4,-9,-1],[2002.49,-3,-10,4,-15,1,-6,-12],
  [2002.52,-7,0,-12,6,-2,-4,-17],[2002.55,-1,-8,5,-13,3,1,8],[2002.58,2,-5,8,-10,0,4,-2],[2002.61,4,-2,10,-7,2,6,-4],
  [2002.64,1,7,-4,12,5,-1,3],[2002.67,5,-1,11,-6,16,2,8],[2002.70,2,8,-3,13,-1,4,-7],[2002.73,6,0,12,-5,3,9,1],
  [2002.76,3,9,-2,14,-8,5,0],[2002.79,0,6,-5,10,-13,2,-3],[2002.82,-3,3,-8,7,-1,-6,-12],[2002.85,-6,0,-11,4,-17,-3,-8],
  [2002.88,-4,-10,2,-14,-20,-7,-1],[2002.91,-7,-1,-12,3,-22,-4,-9],[2002.94,-3,-9,2,-15,-6,-11,0],[2002.97,-1,-7,4,-12,6,-4,-2],
  [2003.00,2,-4,8,-9,0,5,11],[2003.03,5,-1,11,-6,15,3,7],[2003.06,3,9,-3,13,7,0,-5],[2003.09,6,0,12,-4,18,4,9],
  [2003.12,3,10,-2,15,21,1,-6],[2003.15,7,1,13,-5,5,9,-1],[2003.18,4,11,-1,8,-8,2,6],[2003.21,1,7,-4,12,-2,-6,-11],
  [2003.24,-2,4,-8,9,-12,-4,1],[2003.27,-5,1,-11,5,-18,-2,-7],[2003.30,-3,-9,2,-14,-6,0,-1],[2003.33,-6,-1,-12,3,-22,-4,-8],
  [2003.36,-4,-10,0,-15,-8,-2,3],[2003.39,-7,-2,-11,1,-5,-9,-3],[2003.42,-3,-8,2,-13,-5,-1,-6]
]
// in-between days: [year, mm x4]
const upRows2 = [
  [1998.095,5,-4,13,0],[1998.125,-2,9,1,-10],[1998.155,3,-7,7,18],[1998.185,-5,4,-12,8],[1998.215,7,-1,11,-16],
  [1998.245,-8,6,-14,-6],[1998.275,2,-11,-4,-16],[1998.305,-7,-2,-12,14],[1998.335,0,-17,-6,-3],[1998.365,-7,-3,9,-11],
  [1998.395,1,-9,-5,8],[1998.425,-6,4,-17,0],[1998.455,2,-7,10,-3],[1998.485,-5,6,-2,-13],[1998.515,0,-10,4,15],
  [1998.545,-8,1,-15,5],[1998.575,4,-4,8,-19],[1998.605,-3,11,-9,-1],[1998.635,10,-3,4,-8],[1998.665,5,10,0,26],
  [1998.695,12,-5,6,9],[1998.725,3,7,19,-1],[1998.755,8,-2,2,15],[1998.785,1,11,-10,7],[1998.815,9,0,17,4],
  [1998.845,2,13,5,-6],[1998.875,7,-3,11,22],[1998.905,-1,8,-8,12],[1998.935,11,3,15,-12],[1998.965,4,18,-2,6],
  [1998.995,12,-1,6,-6],[1999.025,3,8,-2,24],[1999.055,10,-7,4,7],[1999.085,1,5,17,-3],[1999.115,6,-4,0,13],
  [1999.145,-1,9,-12,5],[1999.175,4,-5,12,-1],[1999.205,-3,8,0,-11],[1999.235,2,-8,6,17],[1999.265,-13,-4,-20,0],
  [1999.295,-1,-9,3,-24],[1999.325,-8,6,-14,-6],[1999.355,2,-11,-4,-16],[1999.385,-7,-2,-12,14],[1999.415,0,-17,-6,-3],
  [1999.445,-9,-5,7,-13],[1999.475,-4,-14,-10,3],[1999.505,-11,-1,-22,-5],[1999.535,-3,-12,5,-8],[1999.565,-10,1,-7,-18],
  [1999.595,-5,-15,-1,10],[1999.625,-10,-1,-17,3],[1999.655,2,-6,6,-21],[1999.685,-5,9,-11,-3],[1999.715,5,-8,-1,-13],
  [1999.745,-4,1,-9,17],[1999.775,3,-14,-3,0],[1999.805,-6,-2,10,-10],[1999.835,-1,-11,-7,6],[1999.865,-8,2,-19,-2],
  [1999.895,7,-2,15,2],[1999.925,0,11,3,-8],[1999.955,5,-5,9,20],[1999.985,-3,6,-10,10],[2000.015,9,1,13,-14],
  [2000.045,2,16,-4,4],[2000.075,12,-1,6,-6],[2000.105,3,8,-2,24],[2000.135,10,-7,4,7],[2000.165,1,5,17,-3],
  [2000.195,1,-9,-5,8],[2000.225,-6,4,-17,0],[2000.255,2,-7,10,-3],[2000.285,-10,1,-7,-18],[2000.315,-5,-15,-1,10],
  [2000.345,-13,-4,-20,0],[2000.375,-1,-9,3,-24],[2000.405,-8,6,-14,-6],[2000.435,2,-11,-4,-16],[2000.465,-7,-2,-12,14],
  [2000.495,10,-7,4,7],[2000.525,1,5,17,-3],[2000.555,6,-4,0,13],[2000.585,-1,9,-12,5],[2000.615,7,-2,15,2],
  [2000.645,0,11,3,-8],[2000.675,5,-5,9,20],[2000.705,-3,6,-10,10],[2000.735,9,1,13,-14],[2000.765,2,16,-4,4],
  [2000.795,8,-5,2,-10],[2000.825,-1,4,-6,20],[2000.855,6,-11,0,3],[2000.885,-3,1,13,-7],[2000.915,2,-8,-4,9],
  [2000.945,-5,5,-16,1],[2000.975,9,0,17,4],[2001.005,2,13,5,-6],[2001.035,7,-3,11,22],[2001.065,-1,8,-8,12],
  [2001.095,11,3,15,-12],[2001.125,4,18,-2,6],[2001.155,8,-5,2,-10],[2001.185,-1,4,-6,20],[2001.215,6,-11,0,3],
  [2001.245,-9,-5,7,-13],[2001.275,-4,-14,-10,3],[2001.305,-11,-1,-22,-5],[2001.335,-3,-12,5,-8],[2001.365,-10,1,-7,-18],
  [2001.395,-5,-15,-1,10],[2001.425,-13,-4,-20,0],[2001.455,-1,-9,3,-24],[2001.485,-8,6,-14,-6],[2001.515,8,-5,2,-10],
  [2001.545,-1,4,-6,20],[2001.575,6,-11,0,3],[2001.605,-3,1,13,-7],[2001.635,2,-8,-4,9],[2001.665,-5,5,-16,1],
  [2001.695,3,-6,11,-2],[2001.725,1,12,4,-7],[2001.755,6,-4,10,21],[2001.785,-2,7,-9,11],[2001.815,10,2,14,-13],
  [2001.845,3,17,-3,5],[2001.875,13,0,7,-5],[2001.905,4,9,-1,25],[2001.935,11,-6,5,8],[2001.965,2,6,18,-2],
  [2001.995,7,-3,1,14],[2002.025,0,10,-11,6],[2002.055,8,-1,16,3],[2002.085,1,12,4,-7],[2002.115,1,-9,5,16],
  [2002.145,-7,2,-14,6],[2002.175,5,-3,9,-18],[2002.205,-2,12,-8,0],[2002.235,8,-5,2,-10],[2002.265,-1,4,-6,20],
  [2002.295,6,-11,0,3],[2002.325,-3,1,13,-7],[2002.355,-3,-13,-9,4],[2002.385,-10,0,-21,-4],[2002.415,-2,-11,6,-7],
  [2002.445,-9,2,-6,-17],[2002.475,-4,-14,0,11],[2002.505,-12,-3,-19,1],[2002.535,0,-8,4,-23],[2002.565,0,14,-6,2],
  [2002.595,10,-3,4,-8],[2002.625,1,6,-4,22],[2002.655,8,-9,2,5],[2002.685,-1,3,15,-5],[2002.715,4,-6,-2,11],
  [2002.745,-3,7,-14,3],[2002.775,5,-4,13,0],[2002.805,-2,9,1,-10],[2002.835,-4,-14,0,11],[2002.865,-12,-3,-19,1],
  [2002.895,0,-8,4,-23],[2002.925,-7,7,-13,-5],[2002.955,3,-10,-3,-15],[2002.985,-6,-1,-11,15],[2003.015,10,-7,4,7],
  [2003.045,1,5,17,-3],[2003.075,6,-4,0,13],[2003.105,-1,9,-12,5],[2003.135,7,-2,15,2],[2003.165,0,11,3,-8],
  [2003.195,5,-5,9,20],[2003.225,-11,-2,-18,2],[2003.255,1,-7,5,-22],[2003.285,-6,8,-12,-4],[2003.315,4,-9,-2,-14],
  [2003.345,-5,0,-10,16],[2003.375,2,-15,-4,-1],[2003.405,-7,-3,9,-11]
]
const upFit = [
  [1996.74,2.9],[1996.80,2.4],[1996.86,2.1],[1996.95,2.6],
  [1997.05,3.3],[1997.13,2.6],[1997.21,0.6],[1997.29,-2.6],[1997.38,-4.8],[1997.46,-3.0],[1997.54,0.3],[1997.62,2.9],[1997.68,3.3],[1997.76,2.8],[1997.86,2.1],[1997.95,2.6],
  [1998.05,3.3],[1998.13,2.6],[1998.21,0.6],[1998.29,-2.6],[1998.38,-4.8],[1998.46,-3.0],[1998.54,0.3],[1998.62,2.9],[1998.68,3.3],[1998.76,2.8],[1998.86,2.1],[1998.95,2.6],
  [1999.05,3.3],[1999.13,2.6],[1999.21,0.6],[1999.29,-2.6],[1999.38,-4.8],[1999.46,-3.0],[1999.54,0.3],[1999.62,2.9],[1999.68,3.3],[1999.76,2.8],[1999.86,2.1],[1999.95,2.6],
  [2000.05,3.3],[2000.13,2.6],[2000.21,0.6],[2000.29,-2.6],[2000.38,-4.8],[2000.46,-3.0],[2000.54,0.3],[2000.62,2.9],[2000.68,3.3],[2000.76,2.8],[2000.86,2.1],[2000.95,2.6],
  [2001.05,3.3],[2001.13,2.6],[2001.21,0.6],[2001.29,-2.6],[2001.38,-4.8],[2001.46,-3.0],[2001.54,0.3],[2001.62,2.9],[2001.68,3.3],[2001.76,2.8],[2001.86,2.1],[2001.95,2.6],
  [2002.05,3.3],[2002.13,2.6],[2002.21,0.6],[2002.29,-2.6],[2002.38,-4.8],[2002.46,-3.0],[2002.54,0.3],[2002.62,2.9],[2002.68,3.3],[2002.76,2.8],[2002.86,2.1],[2002.95,2.6],
  [2003.05,3.3],[2003.13,2.6],[2003.21,0.6],[2003.29,-2.6],[2003.38,-4.8],[2003.42,-4.4]
]

// 行数据展开成散点
function toPoints(early, ...rowSets) {
  const pts = early.slice()
  rowSets.forEach((rows) => {
    rows.forEach((r) => {
      for (let i = 1; i < r.length; i++) pts.push([r[0], r[i]])
    })
  })
  return pts
}

const panels = [
  {
    box: { left: 102, top: 66, width: 984, height: 373 },
    xMin: 1996.577, xMax: 2003.584, yMin: -71.9, yMax: 61.4, yTicks: northTicks,
    points: toPoints(northEarly, northRows, northRows2), fit: northFit,
    slope: 'slope =  15.88 +–   0.41 mm/yr (1996.7418 – 2003.4151)', slopeAt: [157, 101],
    label: 'HRAO north', labelAt: [1054, 394]
  },
  {
    box: { left: 103, top: 546, width: 978, height: 370 },
    xMin: 1996.576, xMax: 2003.582, yMin: -94.2, yMax: 65.5, yTicks: eastTicks,
    points: toPoints(eastEarly, eastRows, eastRows2), fit: eastFit,
    slope: 'slope =  18.38 +–   0.66 mm/yr (1996.7418 – 2003.4151)', slopeAt: [153, 585],
    label: 'HRAO east', labelAt: [1045, 870]
  },
  {
    box: { left: 106, top: 1014, width: 976, height: 371 },
    xMin: 1996.582, xMax: 2003.578, yMin: -36.4, yMax: 45.8, yTicks: upTicks,
    points: toPoints(upEarly, upRows, upRows2), fit: upFit,
    slope: 'slope =  \u22120.06 +–   0.93 mm/yr (1996.7418 – 2003.4151)', slopeAt: [155, 1046],
    label: 'HRAO up', labelAt: [1053, 1346]
  }
]

const axisLine = { show: true, onZero: false, lineStyle: { color: '#4d4d4d', width: 2 } }
const minus = (v) => String(v).replace('-', '\u2212')
function ticks(vals) {
  return { show: true, inside: true, length: 6, customValues: vals, lineStyle: { color: '#8a8a8a', width: 1.5 } }
}
const labelStyle = { fontFamily: 'DejaVu Sans', fontSize: 17, color: '#222' }

const grid = [], xAxis = [], yAxis = [], series = [], graphic = []

panels.forEach((p, i) => {
  grid.push(Object.assign({ containLabel: false }, p.box))
  xAxis.push({
    type: 'value', gridIndex: i, position: 'bottom', min: p.xMin, max: p.xMax,
    axisLine, axisTick: ticks(yearTicks), splitLine: { show: false },
    axisLabel: Object.assign({ customValues: yearTicks, margin: 11, formatter: (v) => String(v) }, labelStyle)
  })
  xAxis.push({
    type: 'value', gridIndex: i, position: 'top', min: p.xMin, max: p.xMax,
    axisLine, axisTick: ticks(yearTicks), splitLine: { show: false }, axisLabel: { show: false }
  })
  yAxis.push({
    type: 'value', gridIndex: i, position: 'left', min: p.yMin, max: p.yMax,
    axisLine, axisTick: ticks(p.yTicks), splitLine: { show: false },
    axisLabel: Object.assign({ customValues: p.yTicks, margin: 9, formatter: minus }, labelStyle),
    name: 'position (mm)', nameLocation: 'middle', nameGap: 49, nameMoveOverlap: false,
    nameTextStyle: { fontFamily: 'DejaVu Sans', fontSize: 19, color: '#222' }
  })
  yAxis.push({
    type: 'value', gridIndex: i, position: 'right', min: p.yMin, max: p.yMax,
    axisLine, axisTick: ticks(p.yTicks), splitLine: { show: false }, axisLabel: { show: false }
  })
  series.push({
    type: 'scatter', xAxisIndex: 2 * i, yAxisIndex: 2 * i, data: p.points,
    symbolSize: 5.2, itemStyle: { color: '#000' }, silent: true, z: 2
  })
  series.push({
    type: 'line', xAxisIndex: 2 * i, yAxisIndex: 2 * i, data: p.fit,
    smooth: 0.4, symbol: 'none', lineStyle: { color: '#ff2020', width: 1.3 }, silent: true, z: 3
  })
  graphic.push({
    type: 'text', x: p.slopeAt[0], y: p.slopeAt[1], silent: true,
    style: { text: p.slope, font: '23px "DejaVu Sans"', fill: '#111', verticalAlign: 'middle' }
  })
  graphic.push({
    type: 'text', x: p.labelAt[0], y: p.labelAt[1], silent: true,
    style: { text: p.label, font: '41px "Liberation Sans"', fill: '#000', align: 'right', verticalAlign: 'middle' }
  })
})

// 外框
graphic.push({
  type: 'polyline', silent: true,
  shape: { points: [[9, 1468], [9, 10], [1126, 10]] },
  style: { stroke: '#000', lineWidth: 2, fill: null }
})

const chart = echarts.init(document.getElementById('chart'))
chart.setOption({
  animation: false,
  backgroundColor: '#fff',
  grid, xAxis, yAxis, series, graphic
})
</script>
</body>
</html>
